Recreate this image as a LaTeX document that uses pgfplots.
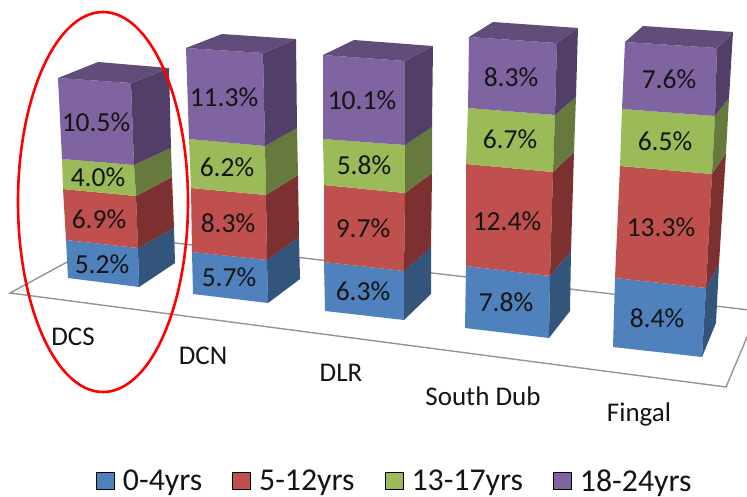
\documentclass[border=0pt]{standalone}
\usepackage{pgfplots}
\usepackage{pgfplotstable}
\usepackage{fontspec}
\setmainfont{Carlito}
\pgfplotsset{compat=1.18}
\definecolor{bluef}{RGB}{79,129,189}\definecolor{blues}{RGB}{51,84,123}
\definecolor{redf}{RGB}{192,80,77}\definecolor{reds}{RGB}{124,48,47}
\definecolor{greenf}{RGB}{155,187,89}\definecolor{greens}{RGB}{101,122,60}
\definecolor{purpf}{RGB}{128,100,162}\definecolor{purps}{RGB}{82,63,104}
\definecolor{purpt}{RGB}{98,76,122}
\definecolor{txt}{RGB}{20,20,20}
\newcommand{\seg}[8]{%
  \addplot[fill=#1,draw=none,forget plot] coordinates {(#3) (#4) (#7) (#6)};
  \addplot[fill=#2,draw=none,forget plot] coordinates {(#4) (#5) (#8) (#7)};
}
\newcommand{\topf}[4]{\addplot[fill=purpt,draw=none,forget plot] coordinates {(#1) (#2) (#4) (#3)};}
\pgfplotsset{vlab/.style={draw=none,forget plot,point meta=explicit,
  nodes near coords={\pgfmathprintnumber[fixed,fixed zerofill,precision=1,assume math mode=true]{\pgfplotspointmeta}\%},
  every node near coord/.style={anchor=center,inner sep=0pt,text=txt,font=\fontsize{27.5}{30}\selectfont}}}
% value labels: x y (picture position) and share
\pgfplotstableread{
x y v
102 264 5.2
229 277 5.7
363 291 6.3
506 302 7.8
657 318 8.4
}\tA
\pgfplotstableread{
x y v
99 219 6.9
228 223 8.3
363 228 9.7
507 221 12.4
661 227 13.3
}\tB
\pgfplotstableread{
x y v
98 177 4.0
227 167 6.2
364 165 5.8
510 139 6.7
665 141 6.5
}\tC
\pgfplotstableread{
x y v
96 122 10.5
224 97 11.3
362 100 10.1
511 77 8.3
669 79 7.6
}\tD
\begin{document}
\begin{tikzpicture}
\path[use as bounding box] (0,0) rectangle (747pt,496pt);
\begin{axis}[
  at={(0,0)},anchor=south west,
  scale only axis,width=747pt,height=496pt,
  xmin=0,xmax=747,ymin=0,ymax=496,y dir=reverse,
  axis lines=none,
  legend columns=4,
  legend cell align=left,
  legend style={draw=none,fill=none,at={(axis cs:96,481)},anchor=west,inner sep=0pt,outer sep=0pt,
    font=\fontsize{31.8}{34}\selectfont\color{txt},
    nodes={inner sep=0pt},
    /tikz/every even column/.append style={column sep=30pt},
    /tikz/every odd column/.append style={column sep=8.5pt}},
  legend image code/.code={\fill[#1] (0pt,-8.5pt) rectangle (18pt,8.5pt);},
]
\addlegendimage{fill=bluef}\addlegendentry{0-4yrs}
\addlegendimage{fill=redf}\addlegendentry{5-12yrs}
\addlegendimage{fill=greenf}\addlegendentry{13-17yrs}
\addlegendimage{fill=purpf}\addlegendentry{18-24yrs}
% floor
\addplot[draw=black!42,line width=1.4pt,forget plot] coordinates {(115,236) (10,293) (726,387) (758,311) (115,236)};
% DCS
\seg{bluef}{blues}{68,278}{139,287}{175,263}{66,240}{138,248}{174,228}
\seg{redf}{reds}{66,240}{138,248}{174,228}{63,189}{136,196}{172,177}
\seg{greenf}{greens}{63,189}{136,196}{172,177}{62,159}{134,165}{171,148}
\seg{purpf}{purps}{62,159}{134,165}{171,148}{58,78}{131,83}{169,68}
\topf{58,78}{131,83}{98,62}{169,68}
% DCN
\seg{bluef}{blues}{193,294}{268,303}{300,279}{192,252}{267,260}{299,237}
\seg{redf}{reds}{192,252}{267,260}{299,237}{191,188}{266,195}{298,175}
\seg{greenf}{greens}{191,188}{266,195}{298,175}{189,139}{265,146}{297,128}
\seg{purpf}{purps}{189,139}{265,146}{297,128}{186,48}{263,53}{296,39}
\topf{186,48}{263,53}{222,34}{296,39}
% DLR
\seg{bluef}{blues}{325,311}{404,320}{431,294}{324,262}{404,271}{431,247}
\seg{redf}{reds}{324,262}{404,271}{431,247}{324,185}{405,193}{432,173}
\seg{greenf}{greens}{324,185}{405,193}{432,173}{323,139}{405,145}{432,127}
\seg{purpf}{purps}{323,139}{405,145}{432,127}{323,55}{405,61}{433,46}
\topf{323,55}{405,61}{354,40}{433,46}
% South Dub
\seg{bluef}{blues}{465,328}{549,338}{570,311}{466,266}{550,276}{571,251}
\seg{redf}{reds}{466,266}{550,276}{571,251}{466,164}{553,172}{574,152}
\seg{greenf}{greens}{466,164}{553,172}{574,152}{468,108}{555,115}{576,97}
\seg{purpf}{purps}{468,108}{555,115}{576,97}{469,37}{557,43}{578,28}
\topf{469,37}{557,43}{493,22}{578,28}
% Fingal
\seg{bluef}{blues}{613,347}{702,357}{716,323}{615,278}{706,288}{719,264}
\seg{redf}{reds}{615,278}{706,288}{719,264}{620,166}{712,174}{726,153}
\seg{greenf}{greens}{620,166}{712,174}{726,153}{622,109}{715,116}{729,98}
\seg{purpf}{purps}{622,109}{715,116}{729,98}{625,42}{717,48}{733,32}
\topf{625,42}{717,48}{643,26}{733,32}
% value labels
\addplot[vlab] table[x=x,y=y,meta=v] {\tA};
\addplot[vlab] table[x=x,y=y,meta=v] {\tB};
\addplot[vlab] table[x=x,y=y,meta=v] {\tC};
\addplot[vlab] table[x=x,y=y,meta=v] {\tD};
% categories
\begin{scope}[every node/.style={text=txt,font=\fontsize{27}{30}\selectfont,inner sep=0pt}]
\node at (axis cs:73,337) {DCS};
\node at (axis cs:203,356) {DCN};
\node at (axis cs:341,373) {DLR};
\node at (axis cs:483,396) {South Dub};
\node at (axis cs:639,414) {Fingal};
\end{scope}
\draw[red,line width=2.6pt] (axis cs:103,202) ellipse [x radius=85pt,y radius=190pt];
\end{axis}
\end{tikzpicture}
\end{document}
